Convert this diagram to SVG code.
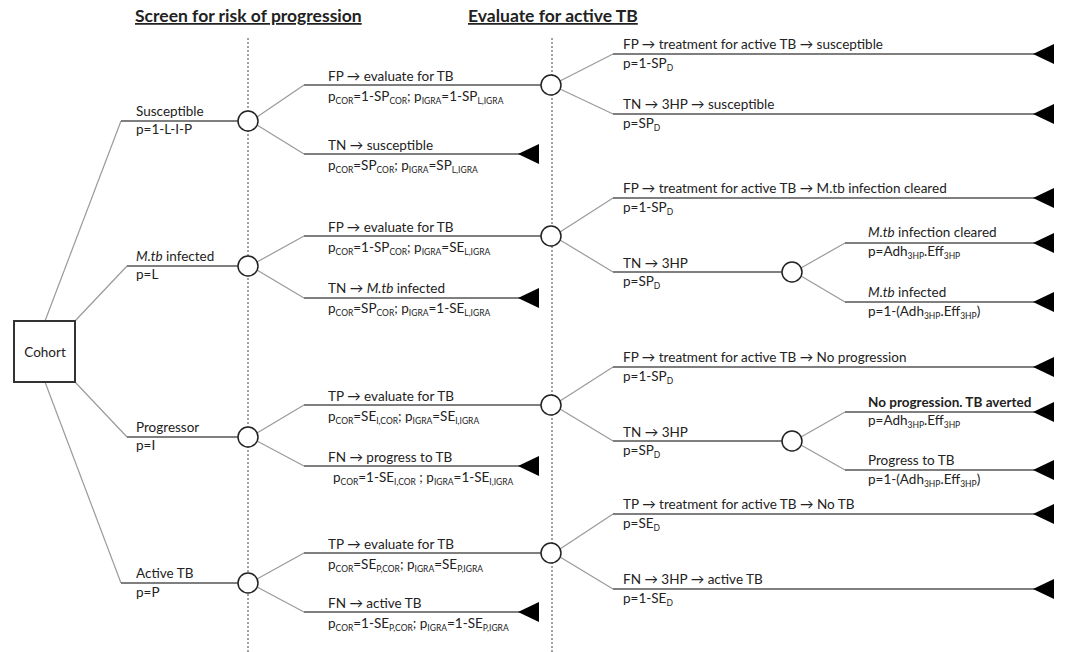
<svg xmlns="http://www.w3.org/2000/svg" width="1072" height="652" viewBox="0 0 1072 652">
<style>
.t{font-family:Lato,"Liberation Sans",sans-serif;font-size:13.5px;fill:#222}
.h{font-family:Lato,"Liberation Sans",sans-serif;font-size:17.5px;font-weight:bold;fill:#222;text-decoration:underline}
.b{font-weight:bold}
.i{font-style:italic}
.s{font-size:8.5px;baseline-shift:-3px}
.dg{stroke:#9a9a9a;stroke-width:1.2;fill:none}
.hz{stroke:#555;stroke-width:1.3;fill:none}
.dash{stroke:#444;stroke-width:1;stroke-dasharray:2 2}
.ch{fill:#fff;stroke:#222;stroke-width:1.5}
.box{fill:#fff;stroke:#333;stroke-width:2}
.term{fill:#000}
</style>
<defs>
<path id="tri" d="M0,0 L21,-10 L21,10 Z"/>
</defs>
<rect width="1072" height="652" fill="#fff"/>

<g id="headings">
<text class="h" x="135" y="22">Screen for risk of progression</text>
<text class="h" x="468" y="22">Evaluate for active TB</text>
</g>

<g id="stage-dividers">
<line class="dash" x1="248" y1="38" x2="248" y2="652"/>
<line class="dash" x1="552" y1="38" x2="552" y2="652"/>
</g>

<g id="connectors">
<line class="dg" x1="45" y1="321" x2="121" y2="121"/><line class="hz" x1="121" y1="121" x2="238" y2="121"/>
<line class="dg" x1="75" y1="321" x2="127" y2="266"/><line class="hz" x1="127" y1="266" x2="238" y2="266"/>
<line class="dg" x1="75" y1="382" x2="127" y2="437"/><line class="hz" x1="127" y1="437" x2="238" y2="437"/>
<line class="dg" x1="45" y1="382" x2="121" y2="583"/><line class="hz" x1="121" y1="583" x2="238" y2="583"/>
<line class="dg" x1="257" y1="117" x2="304" y2="85"/><line class="hz" x1="304" y1="85" x2="541" y2="85"/>
<line class="dg" x1="257" y1="125" x2="304" y2="154"/><line class="hz" x1="304" y1="154" x2="530" y2="154"/>
<line class="dg" x1="257" y1="262" x2="304" y2="236"/><line class="hz" x1="304" y1="236" x2="541" y2="236"/>
<line class="dg" x1="257" y1="270" x2="304" y2="298"/><line class="hz" x1="304" y1="298" x2="530" y2="298"/>
<line class="dg" x1="257" y1="433" x2="304" y2="405"/><line class="hz" x1="304" y1="405" x2="541" y2="405"/>
<line class="dg" x1="257" y1="441" x2="304" y2="466"/><line class="hz" x1="304" y1="466" x2="530" y2="466"/>
<line class="dg" x1="257" y1="579" x2="304" y2="553"/><line class="hz" x1="304" y1="553" x2="541" y2="553"/>
<line class="dg" x1="257" y1="587" x2="304" y2="612"/><line class="hz" x1="304" y1="612" x2="530" y2="612"/>
<line class="dg" x1="560" y1="81" x2="613" y2="54"/><line class="hz" x1="613" y1="54" x2="1045" y2="54"/>
<line class="dg" x1="560" y1="89" x2="613" y2="114"/><line class="hz" x1="613" y1="114" x2="1045" y2="114"/>
<line class="dg" x1="560" y1="232" x2="613" y2="198"/><line class="hz" x1="613" y1="198" x2="1045" y2="198"/>
<line class="dg" x1="560" y1="240" x2="613" y2="272"/><line class="hz" x1="613" y1="272" x2="782" y2="272"/>
<line class="dg" x1="801" y1="268" x2="845" y2="243"/><line class="hz" x1="845" y1="243" x2="1045" y2="243"/>
<line class="dg" x1="801" y1="276" x2="845" y2="302"/><line class="hz" x1="845" y1="302" x2="1045" y2="302"/>
<line class="dg" x1="560" y1="401" x2="613" y2="367"/><line class="hz" x1="613" y1="367" x2="1045" y2="367"/>
<line class="dg" x1="560" y1="409" x2="613" y2="441"/><line class="hz" x1="613" y1="441" x2="782" y2="441"/>
<line class="dg" x1="801" y1="437" x2="845" y2="412"/><line class="hz" x1="845" y1="412" x2="1045" y2="412"/>
<line class="dg" x1="801" y1="445" x2="845" y2="470"/><line class="hz" x1="845" y1="470" x2="1045" y2="470"/>
<line class="dg" x1="560" y1="549" x2="613" y2="514"/><line class="hz" x1="613" y1="514" x2="1045" y2="514"/>
<line class="dg" x1="560" y1="557" x2="613" y2="589"/><line class="hz" x1="613" y1="589" x2="1045" y2="589"/>
</g>

<g id="cohort">
<rect class="box" x="14" y="321" width="61" height="61"/>
<text class="t" x="45" y="357" text-anchor="middle">Cohort</text>
</g>

<g id="susceptible">
<circle class="ch" cx="248" cy="121" r="10"/>
<text class="t" x="136" y="116">Susceptible</text>
<text class="t" x="136" y="134">p=1-L-I-P</text>
</g>
<g id="mtb-infected">
<circle class="ch" cx="248" cy="266" r="10"/>
<text class="t" x="136" y="261"><tspan class="i">M.tb</tspan> infected</text>
<text class="t" x="136" y="279">p=L</text>
</g>
<g id="progressor">
<circle class="ch" cx="248" cy="437" r="10"/>
<text class="t" x="136" y="432">Progressor</text>
<text class="t" x="136" y="450">p=I</text>
</g>
<g id="active-tb">
<circle class="ch" cx="248" cy="583" r="10"/>
<text class="t" x="136" y="578">Active TB</text>
<text class="t" x="136" y="597">p=P</text>
</g>

<g id="s-fp">
<circle class="ch" cx="551" cy="85" r="10"/>
<text class="t" x="328" y="81">FP → evaluate for TB</text>
<text class="t" x="328" y="101">p<tspan class="s">COR</tspan>=1-SP<tspan class="s">COR</tspan>; p<tspan class="s">IGRA</tspan>=1-SP<tspan class="s">L,IGRA</tspan></text>
</g>
<g id="s-tn">
<use href="#tri" class="term" x="518" y="154"/>
<text class="t" x="328" y="150">TN → susceptible</text>
<text class="t" x="328" y="170">p<tspan class="s">COR</tspan>=SP<tspan class="s">COR</tspan>; p<tspan class="s">IGRA</tspan>=SP<tspan class="s">L,IGRA</tspan></text>
</g>
<g id="m-fp">
<circle class="ch" cx="551" cy="236" r="10"/>
<text class="t" x="328" y="232">FP → evaluate for TB</text>
<text class="t" x="328" y="252">p<tspan class="s">COR</tspan>=1-SP<tspan class="s">COR</tspan>; p<tspan class="s">IGRA</tspan>=SE<tspan class="s">L,IGRA</tspan></text>
</g>
<g id="m-tn">
<use href="#tri" class="term" x="518" y="298"/>
<text class="t" x="328" y="293">TN → <tspan class="i">M.tb</tspan> infected</text>
<text class="t" x="328" y="313">p<tspan class="s">COR</tspan>=SP<tspan class="s">COR</tspan>; p<tspan class="s">IGRA</tspan>=1-SE<tspan class="s">L,IGRA</tspan></text>
</g>
<g id="p-tp">
<circle class="ch" cx="551" cy="405" r="10"/>
<text class="t" x="328" y="401">TP → evaluate for TB</text>
<text class="t" x="328" y="421">p<tspan class="s">COR</tspan>=SE<tspan class="s">I,COR</tspan>; p<tspan class="s">IGRA</tspan>=SE<tspan class="s">I,IGRA</tspan></text>
</g>
<g id="p-fn">
<use href="#tri" class="term" x="518" y="466"/>
<text class="t" x="328" y="462">FN → progress to TB</text>
<text class="t" x="333" y="482">p<tspan class="s">COR</tspan>=1-SE<tspan class="s">I,COR</tspan> ; p<tspan class="s">IGRA</tspan>=1-SE<tspan class="s">I,IGRA</tspan></text>
</g>
<g id="a-tp">
<circle class="ch" cx="551" cy="553" r="10"/>
<text class="t" x="328" y="549">TP → evaluate for TB</text>
<text class="t" x="328" y="569">p<tspan class="s">COR</tspan>=SE<tspan class="s">P,COR</tspan>; p<tspan class="s">IGRA</tspan>=SE<tspan class="s">P,IGRA</tspan></text>
</g>
<g id="a-fn">
<use href="#tri" class="term" x="518" y="612"/>
<text class="t" x="328" y="608">FN → active TB</text>
<text class="t" x="328" y="628">p<tspan class="s">COR</tspan>=1-SE<tspan class="s">P,COR</tspan>; p<tspan class="s">IGRA</tspan>=1-SE<tspan class="s">P,IGRA</tspan></text>
</g>

<g id="s-fp-fp">
<use href="#tri" class="term" x="1033" y="54"/>
<text class="t" x="623" y="49">FP → treatment for active TB → susceptible</text>
<text class="t" x="623" y="68">p=1-SP<tspan class="s">D</tspan></text>
</g>
<g id="s-fp-tn">
<use href="#tri" class="term" x="1033" y="114"/>
<text class="t" x="623" y="109">TN → 3HP → susceptible</text>
<text class="t" x="623" y="128">p=SP<tspan class="s">D</tspan></text>
</g>
<g id="m-fp-fp">
<use href="#tri" class="term" x="1033" y="198"/>
<text class="t" x="623" y="193">FP → treatment for active TB → M.tb infection cleared</text>
<text class="t" x="623" y="212">p=1-SP<tspan class="s">D</tspan></text>
</g>
<g id="m-fp-tn">
<circle class="ch" cx="792" cy="272" r="10"/>
<text class="t" x="623" y="268">TN → 3HP</text>
<text class="t" x="623" y="286">p=SP<tspan class="s">D</tspan></text>
</g>
<g id="m-cleared">
<use href="#tri" class="term" x="1033" y="243"/>
<text class="t" x="868" y="237"><tspan class="i">M.tb</tspan> infection cleared</text>
<text class="t" x="868" y="256">p=Adh<tspan class="s">3HP</tspan>.Eff<tspan class="s">3HP</tspan></text>
</g>
<g id="m-infected">
<use href="#tri" class="term" x="1033" y="302"/>
<text class="t" x="868" y="297"><tspan class="i">M.tb</tspan> infected</text>
<text class="t" x="868" y="316">p=1-(Adh<tspan class="s">3HP</tspan>.Eff<tspan class="s">3HP</tspan>)</text>
</g>
<g id="p-tp-fp">
<use href="#tri" class="term" x="1033" y="367"/>
<text class="t" x="623" y="362">FP → treatment for active TB → No progression</text>
<text class="t" x="623" y="381">p=1-SP<tspan class="s">D</tspan></text>
</g>
<g id="p-tp-tn">
<circle class="ch" cx="792" cy="441" r="10"/>
<text class="t" x="623" y="437">TN → 3HP</text>
<text class="t" x="623" y="455">p=SP<tspan class="s">D</tspan></text>
</g>
<g id="p-averted">
<use href="#tri" class="term" x="1033" y="412"/>
<text class="t b" x="868" y="407">No progression. TB averted</text>
<text class="t" x="868" y="425">p=Adh<tspan class="s">3HP</tspan>.Eff<tspan class="s">3HP</tspan></text>
</g>
<g id="p-progress">
<use href="#tri" class="term" x="1033" y="470"/>
<text class="t" x="868" y="465">Progress to TB</text>
<text class="t" x="868" y="484">p=1-(Adh<tspan class="s">3HP</tspan>.Eff<tspan class="s">3HP</tspan>)</text>
</g>
<g id="a-tp-tp">
<use href="#tri" class="term" x="1033" y="514"/>
<text class="t" x="623" y="509">TP → treatment for active TB → No TB</text>
<text class="t" x="623" y="528">p=SE<tspan class="s">D</tspan></text>
</g>
<g id="a-tp-fn">
<use href="#tri" class="term" x="1033" y="589"/>
<text class="t" x="623" y="584">FN → 3HP → active TB</text>
<text class="t" x="623" y="603">p=1-SE<tspan class="s">D</tspan></text>
</g>
</svg>
